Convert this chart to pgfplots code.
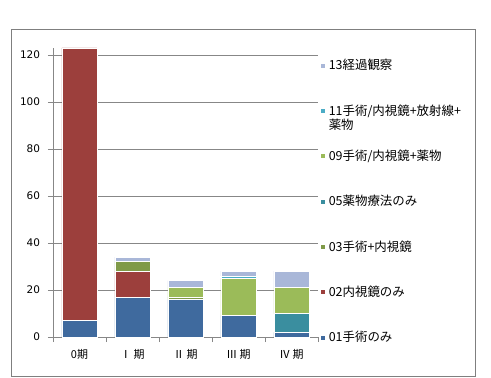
\documentclass[border=0pt]{standalone}
\usepackage{pgfplots}
\pgfplotsset{compat=1.18}
\usepackage{fontspec}
\setmainfont{DejaVu Sans}
\newfontfamily\cjk{Noto Sans CJK JP}
\definecolor{c01}{HTML}{3F6A9E}
\definecolor{c02}{HTML}{9C3F3C}
\definecolor{c03}{HTML}{7F9A48}
\definecolor{c05}{HTML}{3A8E9F}
\definecolor{c09}{HTML}{9BBB59}
\definecolor{c11}{HTML}{4BACC6}
\definecolor{c13}{HTML}{A9B7D8}
\definecolor{framec}{HTML}{7F7F7F}
\definecolor{gridc}{HTML}{878787}
\begin{document}
\begin{tikzpicture}
\useasboundingbox (-53bp,-41bp) rectangle (438bp,337bp);
\fill[white] (-53bp,-41bp) rectangle (438bp,337bp);
\draw[color=framec, line width=1bp] (-41.5bp,-39.5bp) rectangle (422bp,307bp);
\begin{axis}[
  scale only axis, width=265bp, height=289bp,
  xmin=-0.5, xmax=4.5, ymin=0, ymax=123,
  ybar stacked, bar width=35bp,
  axis x line*=bottom, axis y line*=left,
  axis line style={-, color=gridc, line width=0.8bp},
  xtick={0,...,4},
  xticklabels={0期,Ⅰ 期,Ⅱ 期,Ⅲ 期,Ⅳ 期},
  major x tick style={draw=none},
  minor xtick={-0.5,0.5,...,4.5},
  minor tick length=5bp, major tick length=5bp, tick align=outside,
  ytick={0,20,...,120},
  ymajorgrids, grid style={color=gridc, line width=0.8bp},
  tick style={color=gridc, line width=0.8bp},
  xticklabel style={font=\cjk\fontsize{11}{13}\selectfont, yshift=-4bp},
  yticklabel style={font=\fontsize{10.5}{12}\selectfont, xshift=-4.5bp},
  /pgf/number format/assume math mode=true,
  reverse legend,
  legend cell align=left,
  legend image code/.code={\fill[#1] (0bp,16.25bp) rectangle (5bp,21.25bp);},
  legend style={draw=none, fill=none, at={(1.0075,0.9524)}, anchor=north west,
    inner sep=0pt, outer sep=0pt, row sep=0pt,
    font=\cjk\fontsize{12.5}{14}\selectfont,
    nodes={text height=8bp, text depth=37.33bp, inner sep=0pt},
    /tikz/every odd column/.append style={column sep=3bp}},
]
\addplot[fill=c01, draw=white, line width=0.8bp] coordinates {(0,7) (1,17) (2,16) (3,9) (4,2)};
\addplot[fill=c02, draw=white, line width=0.8bp] coordinates {(0,116) (1,11) (2,0) (3,0) (4,0)};
\addplot[fill=c03, draw=white, line width=0.8bp] coordinates {(0,0) (1,4) (2,1) (3,0) (4,0)};
\addplot[fill=c05, draw=white, line width=0.8bp] coordinates {(0,0) (1,0) (2,0) (3,0) (4,8)};
\addplot[fill=c09, draw=white, line width=0.8bp] coordinates {(0,0) (1,0) (2,4) (3,16) (4,11)};
\addplot[fill=c11, draw=white, line width=0.8bp] coordinates {(0,0) (1,0) (2,0) (3,1) (4,0)};
\addplot[fill=c13, draw=white, line width=0.8bp] coordinates {(0,0) (1,2) (2,3) (3,2) (4,7)};
\addlegendentry{01手術のみ}
\addlegendentry{02内視鏡のみ}
\addlegendentry{03手術+内視鏡}
\addlegendentry{05薬物療法のみ}
\addlegendentry{09手術/内視鏡+薬物}
\addlegendentry{\begin{tabular}[t]{@{}l@{}}11手術/内視鏡+放射線+\\薬物\end{tabular}}
\addlegendentry{13経過観察}
\end{axis}
\end{tikzpicture}
\end{document}
